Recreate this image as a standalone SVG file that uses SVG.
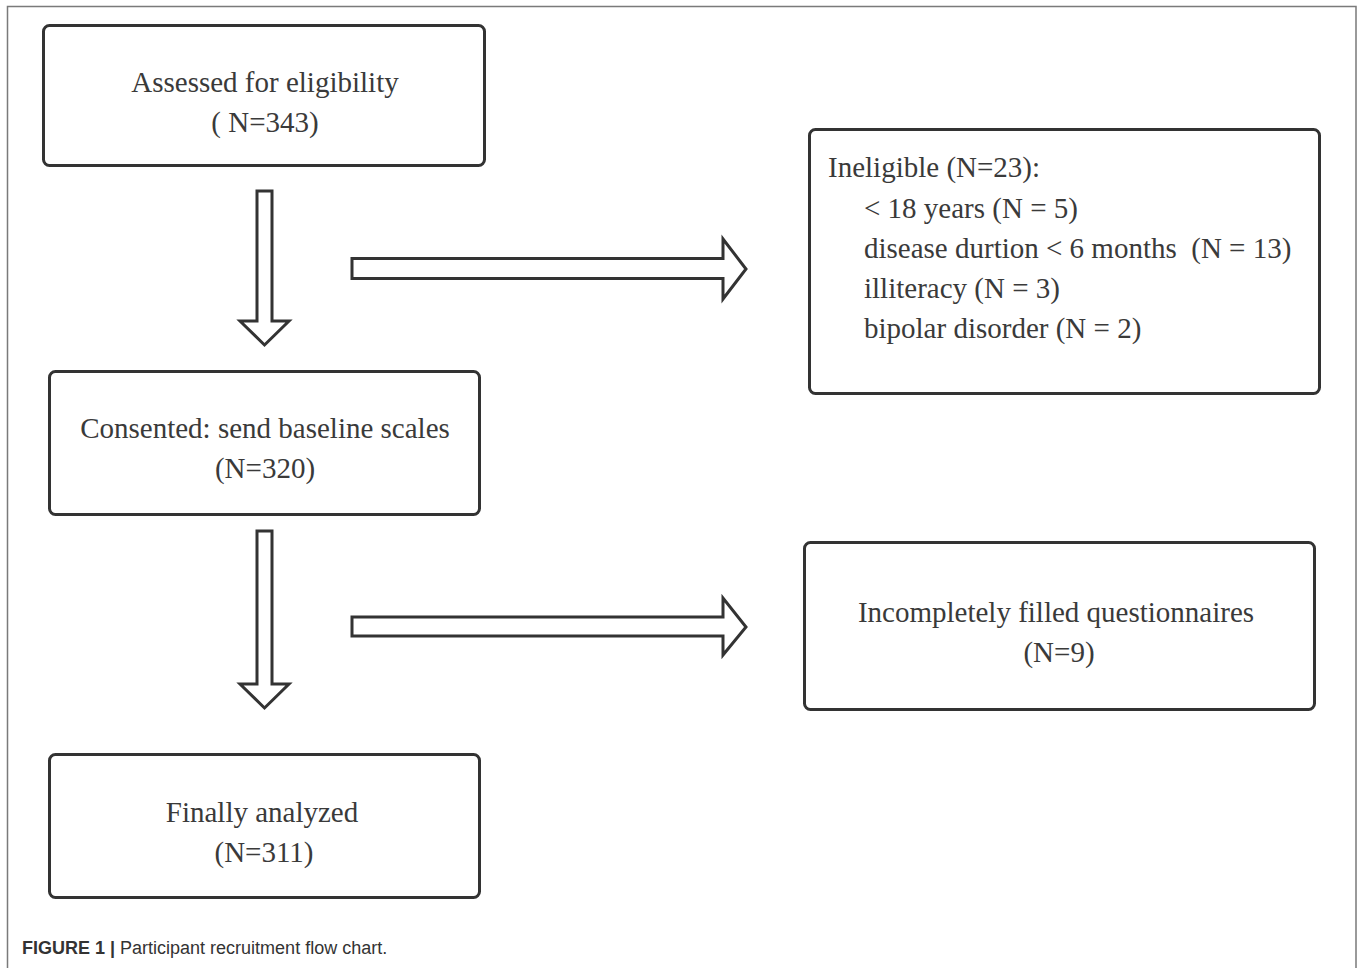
<svg xmlns="http://www.w3.org/2000/svg" width="1358" height="968" viewBox="0 0 1358 968">
<style>
.box{fill:#fff;stroke:#333;stroke-width:3}
.arr{fill:#fff;stroke:#333;stroke-width:3;stroke-linejoin:miter}
.t{font-family:"Liberation Serif","Times New Roman",serif;font-size:29px;fill:#3a3a3a}
.c{text-anchor:middle}
.cap{font-family:"Liberation Sans",Arial,sans-serif;font-size:18px;fill:#333}
</style>
<rect width="1358" height="968" fill="#fff"/>
<path d="M7.5,968 V6.5 H1356 V968" fill="none" stroke="#7a7a7a" stroke-width="1.5"/>
<g id="n1">
<rect class="box" x="43.5" y="25.5" width="441" height="140" rx="6"/>
<text class="t c" x="265" y="92">Assessed for eligibility</text>
<text class="t c" x="265" y="132">( N=343)</text>
</g>
<g id="n2">
<rect class="box" x="809.5" y="129.5" width="510" height="264" rx="6"/>
<text class="t" x="828" y="177">Ineligible (N=23):</text>
<text class="t" x="864" y="218">&lt; 18 years (N = 5)</text>
<text class="t" x="864" y="258" xml:space="preserve">disease durtion &lt; 6 months  (N = 13)</text>
<text class="t" x="864" y="298">illiteracy (N = 3)</text>
<text class="t" x="864" y="338">bipolar disorder (N = 2)</text>
</g>
<g id="n3">
<rect class="box" x="49.5" y="371.5" width="430" height="143" rx="6"/>
<text class="t c" x="265" y="438">Consented: send baseline scales</text>
<text class="t c" x="265" y="478">(N=320)</text>
</g>
<g id="n4">
<rect class="box" x="804.5" y="542.5" width="510" height="167" rx="6"/>
<text class="t c" x="1056" y="622">Incompletely filled questionnaires</text>
<text class="t c" x="1059" y="662">(N=9)</text>
</g>
<g id="n5">
<rect class="box" x="49.5" y="754.5" width="430" height="143" rx="6"/>
<text class="t c" x="262" y="822">Finally analyzed</text>
<text class="t c" x="264" y="862">(N=311)</text>
</g>
<g id="connectors">
<polygon class="arr" points="257,191 272,191 272,321 289,321 264.5,345 240,321 257,321"/>
<polygon class="arr" points="352,258.5 723,258.5 723,239 746,269 723,299 723,278.5 352,278.5"/>
<polygon class="arr" points="257,531 272,531 272,684 289,684 264.5,708 240,684 257,684"/>
<polygon class="arr" points="352,617 723,617 723,598 746,627 723,655 723,636 352,636"/>
</g>
<text class="cap" x="22" y="954"><tspan font-weight="bold">FIGURE 1 |</tspan> Participant recruitment flow chart.</text>
</svg>
